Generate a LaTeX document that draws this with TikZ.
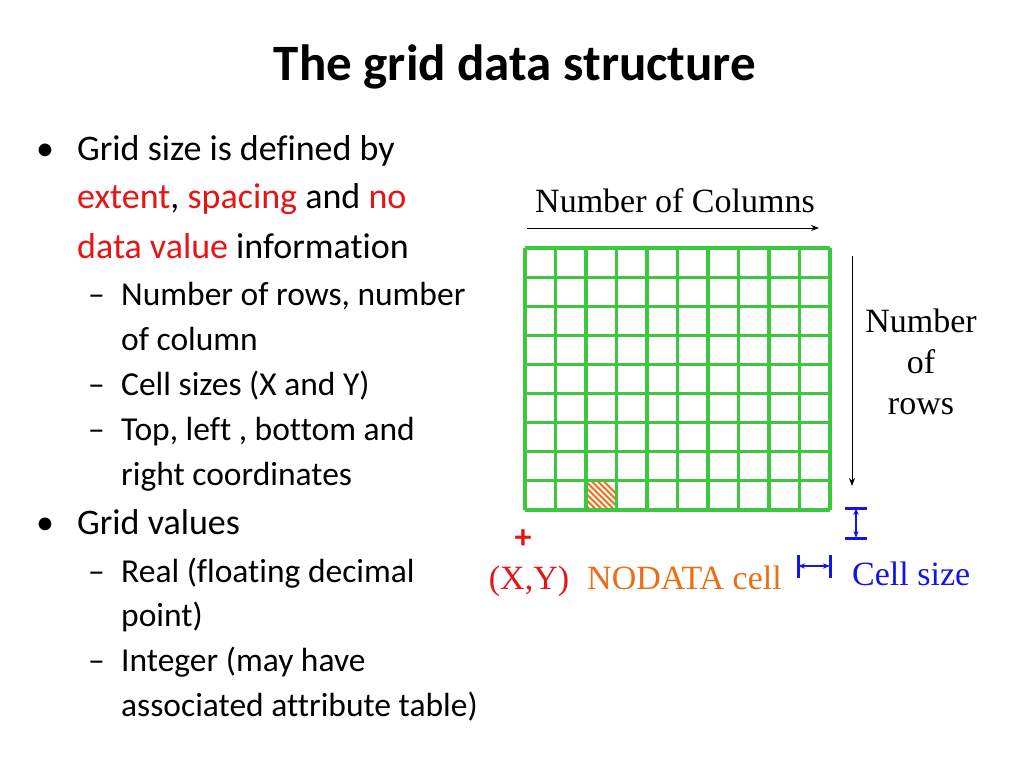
\documentclass[tikz,border=0pt]{standalone}
\usepackage{fontspec}
\setmainfont[Ligatures=CommonOff]{Carlito}
\newfontfamily\tms{Liberation Serif}
\usetikzlibrary{arrows.meta}
\definecolor{gg}{RGB}{60,200,60}
\definecolor{rr}{RGB}{230,20,20}
\definecolor{oo}{RGB}{235,110,20}
\definecolor{bb}{RGB}{20,20,230}
\begin{document}
\begin{tikzpicture}[x=1pt,y=-1pt,
 body/.style={anchor=base west,inner sep=0,font=\fontsize{36}{36}\selectfont},
 sub/.style={anchor=base west,inner sep=0,font=\fontsize{33.5}{33.5}\selectfont},
 lab/.style={inner sep=0,font=\tms\fontsize{34}{34}\selectfont}]
\useasboundingbox (0,0) rectangle (1024,768);
\node[anchor=base,inner sep=0,font=\bfseries\fontsize{51}{51}\selectfont] (t) at (515,80) {The grid data structure};
\node[body] (b1) at (36,160) {•};
\node[body] (l1) at (77,160) {Grid size is defined by};
\node[body] (l2) at (77,208) {\color{rr}extent\color{black}, \color{rr}spacing \color{black}and \color{rr}no};
\node[body] (l3) at (77,258) {\color{rr}data value \color{black}information};
\node[sub] (s1) at (88,305) {–};
\node[sub] (s1a) at (121,305) {Number of rows, number};
\node[sub] (s1b) at (121,350) {of column};
\node[sub] (s2) at (88,395) {–};
\node[sub] (s2a) at (121,395) {Cell sizes (X and Y)};
\node[sub] (s3) at (88,440) {–};
\node[sub] (s3a) at (121,440) {Top, left , bottom and};
\node[sub] (s3b) at (121,485) {right coordinates};
\node[body] (b2) at (36,534) {•};
\node[body] (l4) at (77,534) {Grid values};
\node[sub] (s4) at (88,582) {–};
\node[sub] (s4a) at (121,582) {Real (floating decimal};
\node[sub] (s4b) at (121,626) {point)};
\node[sub] (s5) at (88,671) {–};
\node[sub] (s5a) at (121,671) {Integer (may have};
\node[sub] (s5b) at (121,716) {associated attribute table)};
% grid
\begin{scope}
\clip (585.5,481) rectangle (616,510);
\foreach \k in {-10,...,3} \draw[oo,line width=1.8pt] ({585.5+6*\k},481) -- ({585.5+6*\k+40},521);
\end{scope}
\foreach \i in {0,...,10} \draw[gg,line width=3.2pt] ({525+30.5*\i},248) -- ({525+30.5*\i},510);
\foreach \j in {0,...,9} \draw[gg,line width=3.2pt] (525,{248+29.11*\j}) -- (830,{248+29.11*\j});
\node[lab,anchor=base] (nc) at (675,212) {Number of Columns};
\coordinate (c1) at (527,228); \coordinate (c2) at (819,228);
\draw[-{Stealth[length=8pt]},line width=1pt] (c1) -- (c2);
\node[lab,align=center,font=\tms\fontsize{34}{41}\selectfont] (nr) at (921,362) {Number\\of\\rows};
\coordinate (r1) at (852,256); \coordinate (r2) at (852,486);
\draw[-{Stealth[length=8pt]},line width=1pt] (r1) -- (r2);
\node[rr,font=\bfseries\fontsize{34}{34}\selectfont,inner sep=0] (plus) at (523,539) {+};
\node[lab,rr,anchor=base] (xy) at (529,589) {(X,Y)};
\node[lab,oo,anchor=base west] (nd) at (587,589) {NODATA cell};
\node[lab,bb,anchor=base west] (cs) at (852,585) {Cell size};
\coordinate (v1) at (856,508); \coordinate (v2) at (856,538);
\draw[bb,line width=3pt] (845,508) -- (867,508) (845,538) -- (867,538);
\draw[bb,{Stealth[length=7pt]}-{Stealth[length=7pt]},line width=1.6pt] (v1) -- (v2);
\coordinate (h1) at (798,566); \coordinate (h2) at (830,566);
\draw[bb,line width=3pt] (798,555) -- (798,578) (830,555) -- (830,578);
\draw[bb,{Stealth[length=7pt]}-{Stealth[length=7pt]},line width=1.6pt] (h1) -- (h2);
\end{tikzpicture}
\end{document}
